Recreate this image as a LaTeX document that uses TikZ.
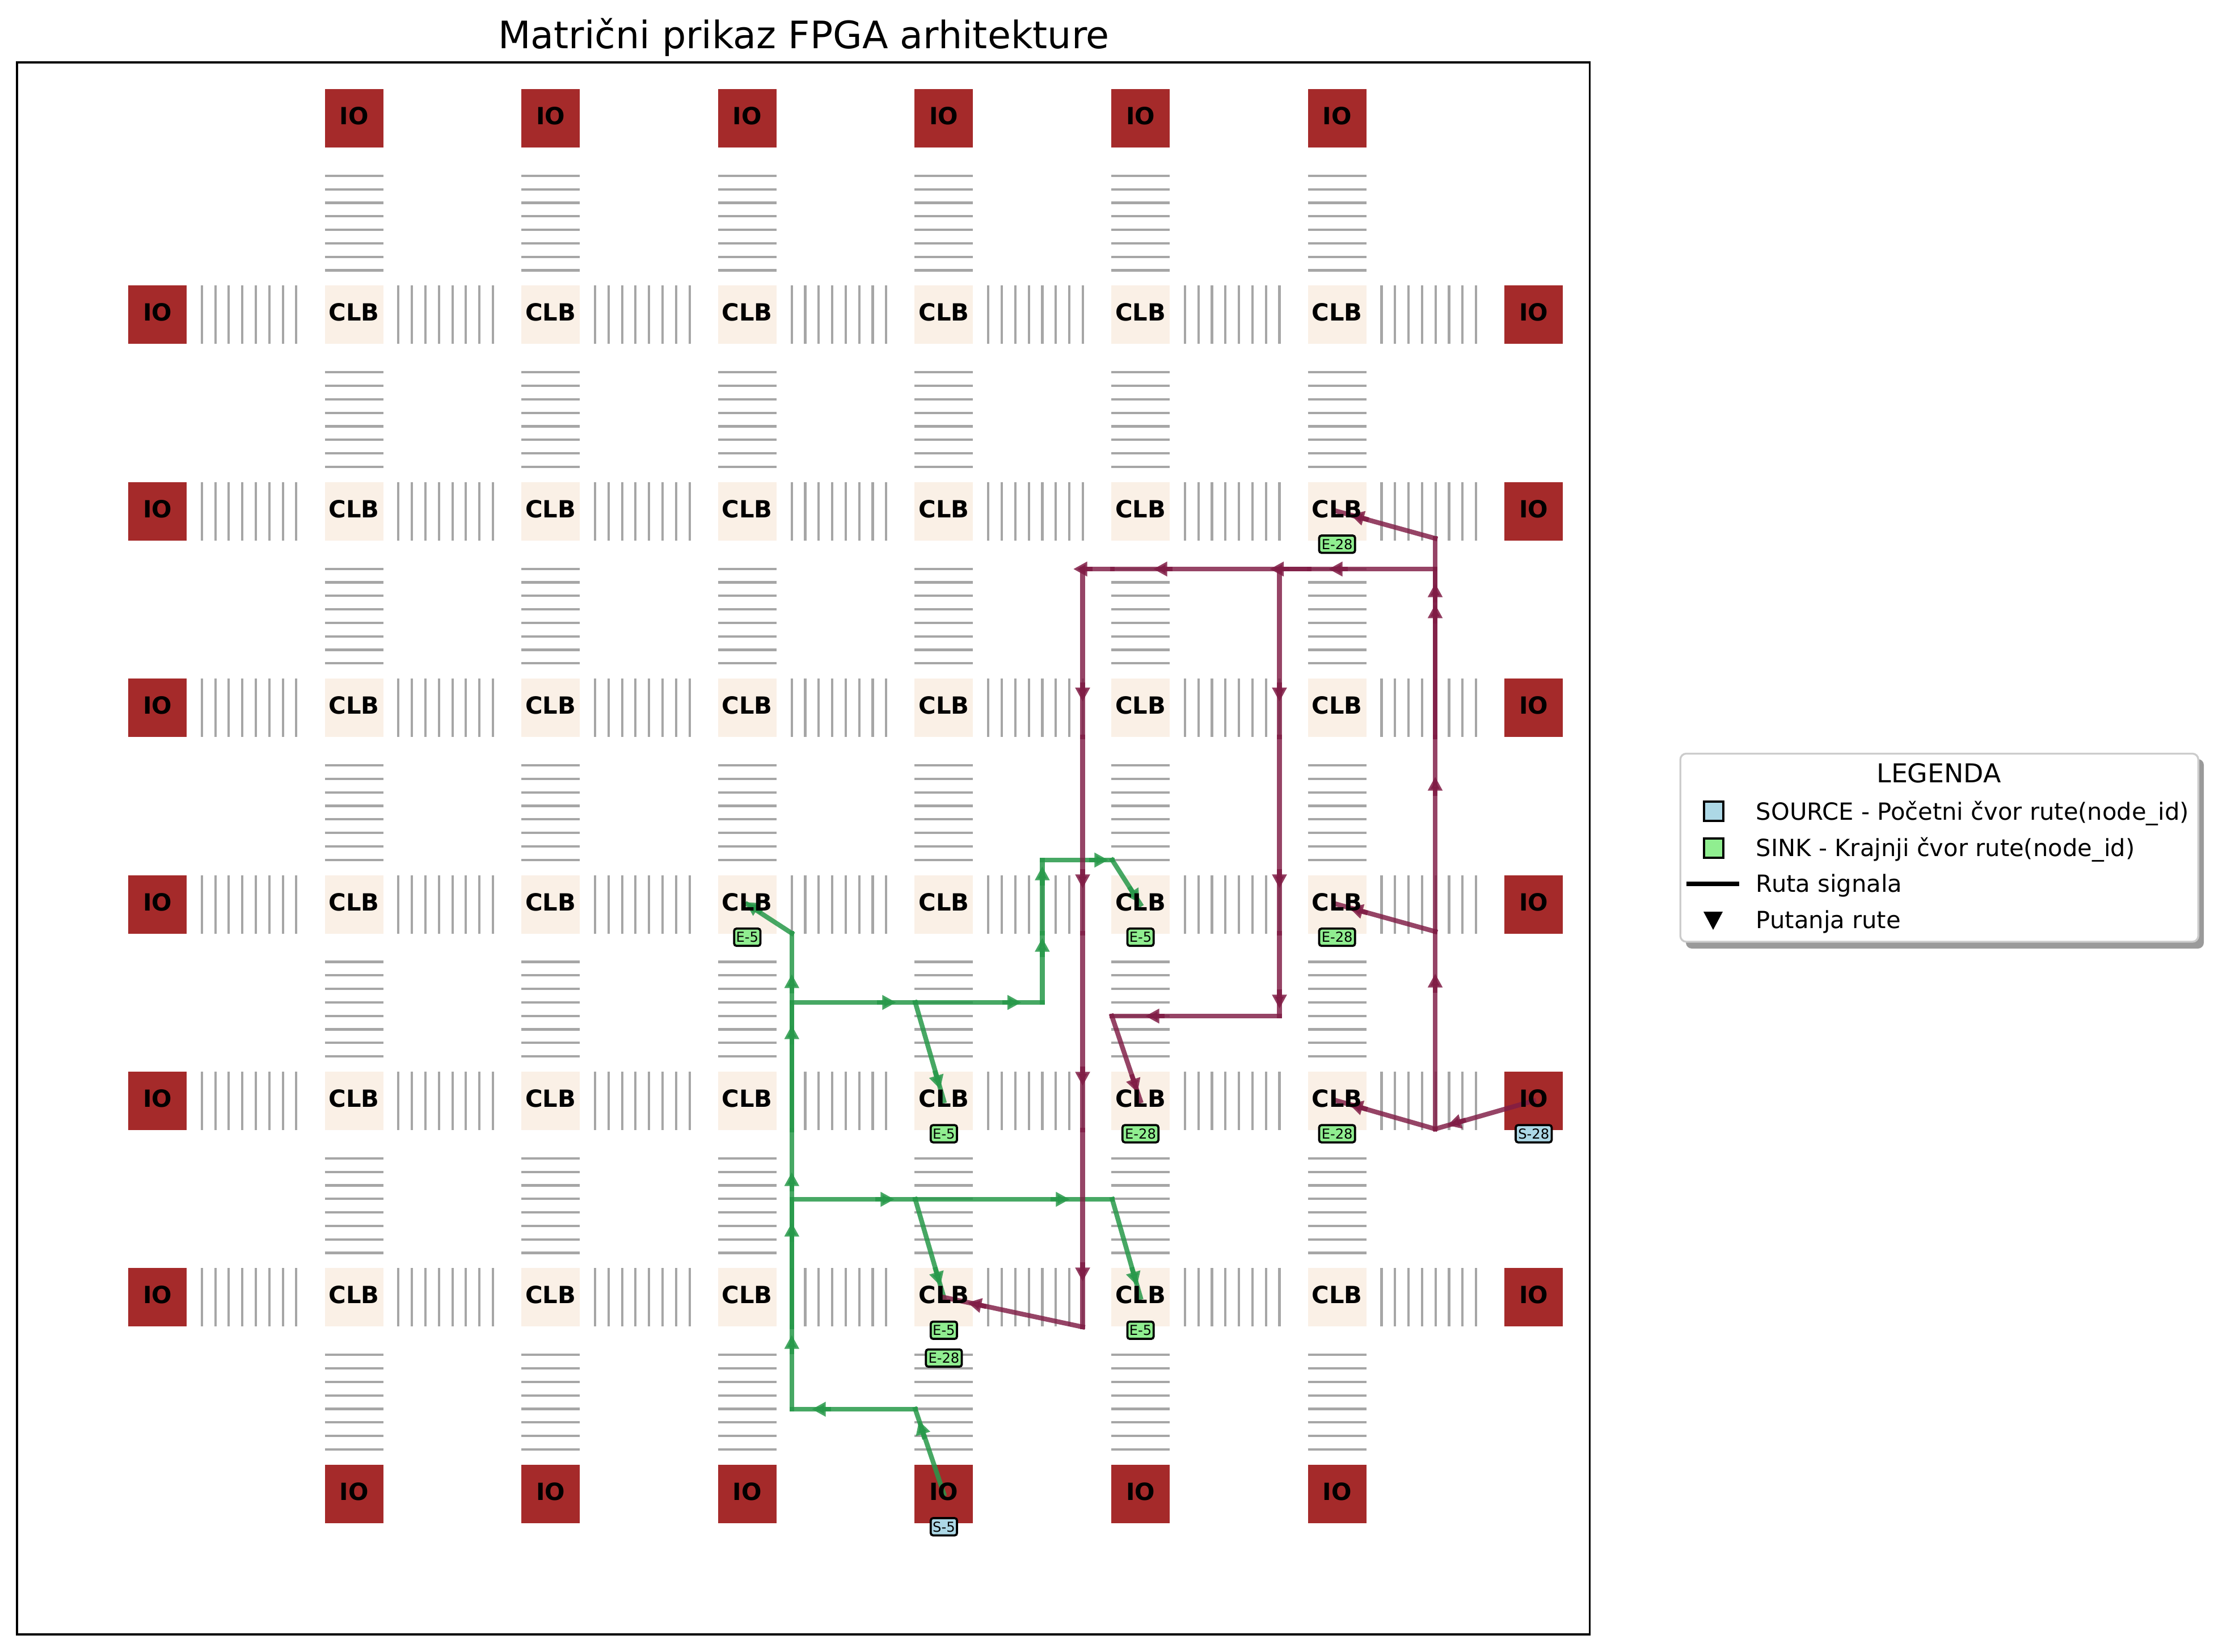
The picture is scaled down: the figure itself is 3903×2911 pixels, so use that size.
\documentclass[tikz,border=0pt]{standalone}
\usepackage{fontspec}
\setmainfont{DejaVu Sans}
\usetikzlibrary{arrows.meta}
\definecolor{iored}{HTML}{A52A2A}
\definecolor{clbfill}{HTML}{FAF0E6}
\definecolor{wiregrey}{HTML}{A6A6A6}
\definecolor{routeg}{HTML}{27994A}
\definecolor{routep}{HTML}{801C45}
\definecolor{sinkg}{HTML}{90EE90}
\definecolor{srcb}{HTML}{ADD8E6}
\definecolor{legedge}{HTML}{CCCCCC}
\definecolor{legshadow}{HTML}{9A9A9A}
\tikzset{
  cellbox/.style={draw=none,inner sep=0pt,outer sep=0pt,minimum width=24.72pt,minimum height=24.72pt},
  iobox/.style={cellbox,fill=iored},
  clbbox/.style={cellbox,fill=clbfill},
  celltext/.style={inner sep=0pt,font=\fontsize{10}{12}\selectfont\bfseries,yshift=1pt},
  wire/.style={draw=wiregrey,line width=1pt},
  gseg/.style={draw=routeg,line width=2pt,line cap=rect,draw opacity=.85},
  pseg/.style={draw=routep,line width=2pt,line cap=rect,draw opacity=.82},
  gtip/.style={draw=routeg,fill=routeg,line width=2pt,opacity=.85,-{Triangle[length=5.9pt,width=5.9pt]}},
  ptip/.style={draw=routep,fill=routep,line width=2pt,opacity=.85,-{Triangle[length=5.9pt,width=5.9pt]}},
  tagbox/.style={draw=black,line width=.9pt,rounded corners=1pt,inner sep=0pt,minimum height=7.3pt,font=\fontsize{5.8}{6}\selectfont},
  tagshort/.style={tagbox,minimum width=11.1pt},
  taglong/.style={tagbox,minimum width=15.2pt},
  legtext/.style={anchor=base west,inner sep=0pt,font=\fontsize{10}{12}\selectfont},
  legmark/.style={draw=black,line width=1pt,inner sep=0pt,minimum width=8.1pt,minimum height=8.1pt}
}
\newcommand{\rtip}[5]{%
  \pgfmathsetmacro\rlen{veclen(#4,#5)}%
  \pgfmathsetmacro\rtx{#2-34*(#4)/\rlen}%
  \pgfmathsetmacro\rty{#3-34*(#5)/\rlen}%
  \draw[#1] (\rtx,\rty) -- (#2,#3);%
}
\begin{document}
\begin{tikzpicture}[x=0.24pt,y=-0.24pt]
\useasboundingbox (0,0) rectangle (3903,2911);
\fill[white] (0,0) rectangle (3903,2911);
% boxes
\foreach \i in {1,...,6}{
  \foreach \j in {1,...,6}{
    \node[clbbox] (c\i\j) at ({277.5+346.6*\i},{208.4+346.4*\j}) {};
  }
  \node[iobox] (io\i0) at ({277.5+346.6*\i},208.4) {};
  \node[iobox] (io\i7) at ({277.5+346.6*\i},2633.2) {};
}
\foreach \j in {1,...,6}{
  \node[iobox] (io0\j) at (277.5,{208.4+346.4*\j}) {};
  \node[iobox] (io7\j) at (2703.7,{208.4+346.4*\j}) {};
}
% routing channels
\foreach \i in {0,...,6}{
  \foreach \j in {1,...,6}{
    \foreach \k in {0,...,7}{
      \pgfmathsetmacro\wx{277.5+346.6*\i+78.3+23.8*\k}
      \pgfmathsetmacro\wy{208.4+346.4*\j}
      \draw[wire] (\wx,\wy-51.5) -- (\wx,\wy+51.5);
    }
  }
}
\foreach \i in {1,...,6}{
  \foreach \j in {1,...,7}{
    \foreach \k in {0,...,7}{
      \pgfmathsetmacro\wx{277.5+346.6*\i}
      \pgfmathsetmacro\wy{208.4+346.4*\j-78.3-23.8*\k}
      \draw[wire] (\wx-51.5,\wy) -- (\wx+51.5,\wy);
    }
  }
}
% green route way points
\coordinate (g1) at (1613.5,2484);
\coordinate (g2) at (1395.8,2484);
\coordinate (g3) at (1395.8,2339);
\coordinate (g4) at (1395.8,2114);
\coordinate (g5) at (1395.8,1992);
\coordinate (g6) at (1395.8,1767);
\coordinate (g7) at (1395.8,1645);
\coordinate (g8) at (1613.5,2114);
\coordinate (g9) at (1960.7,2114);
\coordinate (g10) at (1613.5,1767);
\coordinate (g11) at (1837.4,1767);
\coordinate (g12) at (1837.4,1645);
\coordinate (g13) at (1837.4,1516);
\coordinate (g14) at (1960.7,1516);
\draw[gseg] (io47.center) -- (g1);
\draw[gseg] (g1) -- (g2);
\draw[gseg] (g2) -- (g3);
\draw[gseg] (g3) -- (g4);
\draw[gseg] (g3) -- (g5);
\draw[gseg] (g5) -- (g6);
\draw[gseg] (g5) -- (g7);
\draw[gseg] (g7) -- (c34.center);
\draw[gseg] (g4) -- (g8);
\draw[gseg] (g8) -- (g9);
\draw[gseg] (g8) -- (c46.center);
\draw[gseg] (g9) -- (c56.center);
\draw[gseg] (g6) -- (g10);
\draw[gseg] (g10) -- (g11);
\draw[gseg] (g10) -- (c45.center);
\draw[gseg] (g11) -- (g12);
\draw[gseg] (g12) -- (g13);
\draw[gseg] (g13) -- (g14);
\draw[gseg] (g14) -- (c54.center);
% green direction marks
\rtip{gtip}{1620}{2504}{-46}{-149}
\rtip{gtip}{1431}{2484}{-1}{0}
\rtip{gtip}{1395.8}{2353}{0}{-1}
\rtip{gtip}{1395.8}{2155}{0}{-1}
\rtip{gtip}{1395.8}{2066}{0}{-1}
\rtip{gtip}{1395.8}{1807}{0}{-1}
\rtip{gtip}{1395.8}{1717}{0}{-1}
\rtip{gtip}{1314}{1590}{-78}{-50}
\rtip{gtip}{1577}{2114}{1}{0}
\rtip{gtip}{1886}{2114}{1}{0}
\rtip{gtip}{1657.7}{2266.5}{50.5}{173}
\rtip{gtip}{2004.5}{2266.5}{50}{173}
\rtip{gtip}{1580}{1767}{1}{0}
\rtip{gtip}{1800.7}{1767}{1}{0}
\rtip{gtip}{1657.4}{1920}{50.5}{173}
\rtip{gtip}{1837.4}{1653}{0}{-1}
\rtip{gtip}{1837.4}{1527}{0}{-1}
\rtip{gtip}{1954}{1516}{1}{0}
\rtip{gtip}{2009}{1592}{50}{78}
% purple route way points
\coordinate (p1) at (2530,1990);
\coordinate (p2) at (2530,1642);
\coordinate (p3) at (2530,1299);
\coordinate (p4) at (2530,1003);
\coordinate (p5) at (2530,949);
\coordinate (p6) at (2308,1003);
\coordinate (p7) at (2255.5,1003);
\coordinate (p8) at (1961,1003);
\coordinate (p9) at (1908.5,1003);
\coordinate (p10) at (1908.5,1299);
\coordinate (p11) at (1908.5,1645);
\coordinate (p12) at (1908.5,1992);
\coordinate (p13) at (1908.5,2339);
\coordinate (p14) at (2255.5,1299);
\coordinate (p15) at (2255.5,1645);
\coordinate (p16) at (2255.5,1791);
\coordinate (p17) at (1960,1791);
\draw[pseg] (io75.center) -- (p1);
\draw[pseg] (p1) -- (c65.center);
\draw[pseg] (p1) -- (p2);
\draw[pseg] (p2) -- (c64.center);
\draw[pseg] (p2) -- (p3);
\draw[pseg] (p3) -- (p4);
\draw[pseg] (p3) -- (p5);
\draw[pseg] (p5) -- (c62.center);
\draw[pseg] (p4) -- (p6);
\draw[pseg] (p6) -- (p7);
\draw[pseg] (p6) -- (p7);
\draw[pseg] (p7) -- (p8);
\draw[pseg] (p8) -- (p9);
\draw[pseg] (p9) -- (p10);
\draw[pseg] (p10) -- (p11);
\draw[pseg] (p11) -- (p12);
\draw[pseg] (p12) -- (p13);
\draw[pseg] (p13) -- (c46.center);
\draw[pseg] (p7) -- (p14);
\draw[pseg] (p14) -- (p15);
\draw[pseg] (p15) -- (p16);
\draw[pseg] (p16) -- (p17);
\draw[pseg] (p17) -- (c55.center);
% purple direction marks
\rtip{ptip}{2551.3}{1983.6}{-173}{50}
\rtip{ptip}{2377.8}{1946}{-173}{-50}
\rtip{ptip}{2530}{1716}{0}{-1}
\rtip{ptip}{2378}{1600}{-173}{-48}
\rtip{ptip}{2530}{1369}{0}{-1}
\rtip{ptip}{2530}{1065}{0}{-1}
\rtip{ptip}{2530}{1028}{0}{-1}
\rtip{ptip}{2380}{907}{-173}{-48}
\rtip{ptip}{2342}{1003}{-1}{0}
\rtip{ptip}{2238.5}{1003}{-1}{0}
\rtip{ptip}{2033}{1003}{-1}{0}
\rtip{ptip}{1892}{1003}{-1}{0}
\rtip{ptip}{1908.5}{1236.7}{0}{1}
\rtip{ptip}{1908.5}{1566}{0}{1}
\rtip{ptip}{1908.5}{1914}{0}{1}
\rtip{ptip}{1908.5}{2259}{0}{1}
\rtip{ptip}{1705.5}{2296}{-244}{-52}
\rtip{ptip}{2255.5}{1236.7}{0}{1}
\rtip{ptip}{2255.5}{1566}{0}{1}
\rtip{ptip}{2255.5}{1778}{0}{1}
\rtip{ptip}{2019}{1791}{-1}{0}
\rtip{ptip}{2005.5}{1926}{50}{149}
% cell texts on top of routes
\foreach \i in {1,...,6}{
  \foreach \j in {1,...,6}{
    \node[celltext] (ct\i\j) at (c\i\j) {CLB};
  }
  \node[celltext] (it\i0) at (io\i0) {IO};
  \node[celltext] (it\i7) at (io\i7) {IO};
}
\foreach \j in {1,...,6}{
  \node[celltext] (it0\j) at (io0\j) {IO};
  \node[celltext] (it7\j) at (io7\j) {IO};
}
% endpoint tags
\path (c62.center) ++(0,58) node[taglong,fill=sinkg] (t1) {E-28};
\path (c64.center) ++(0,58) node[taglong,fill=sinkg] (t2) {E-28};
\path (c65.center) ++(0,58) node[taglong,fill=sinkg] (t3) {E-28};
\path (c55.center) ++(0,58) node[taglong,fill=sinkg] (t4) {E-28};
\path (c46.center) ++(0,107) node[taglong,fill=sinkg] (t5) {E-28};
\path (c34.center) ++(0,58) node[tagshort,fill=sinkg] (t6) {E-5};
\path (c54.center) ++(0,58) node[tagshort,fill=sinkg] (t7) {E-5};
\path (c45.center) ++(0,58) node[tagshort,fill=sinkg] (t8) {E-5};
\path (c46.center) ++(0,58) node[tagshort,fill=sinkg] (t9) {E-5};
\path (c56.center) ++(0,58) node[tagshort,fill=sinkg] (t10) {E-5};
\path (io47.center) ++(0,58) node[tagshort,fill=srcb] (t11) {S-5};
\path (io75.center) ++(0,58) node[taglong,fill=srcb] (t12) {S-28};
% frame and title
\draw[black,line width=.8pt] (30,110) rectangle (2802.7,2881);
\node[anchor=base,inner sep=0pt,font=\fontsize{16}{18}\selectfont] (title) at (1417,85) {Matrični prikaz FPGA arhitekture};
% legend
\fill[legshadow,rounded corners=2.5pt] (2972,1338) rectangle (3885,1672);
\draw[legedge,fill=white,line width=.8pt,rounded corners=2.5pt] (2962.2,1328.4) rectangle (3875.3,1660);
\node[anchor=base,inner sep=0pt,font=\fontsize{11}{13}\selectfont] (legtitle) at (3418,1379) {LEGENDA};
\node[legmark,fill=srcb] (m1) at (3021,1430) {};
\node[legmark,fill=sinkg] (m2) at (3021,1495) {};
\coordinate (m3a) at (2973,1558);
\coordinate (m3b) at (3066,1558);
\draw[black,line width=2pt] (m3a) -- (m3b);
\fill[black] (3003,1607) -- (3037,1607) -- (3020,1639) -- cycle;
\node[legtext] (l1) at (3095,1445) {SOURCE - Početni čvor rute(node\_id)};
\node[legtext] (l2) at (3095,1509) {SINK - Krajnji čvor rute(node\_id)};
\node[legtext] (l3) at (3095,1572.7) {Ruta signala};
\node[legtext] (l4) at (3095,1636.7) {Putanja rute};
\end{tikzpicture}
\end{document}
